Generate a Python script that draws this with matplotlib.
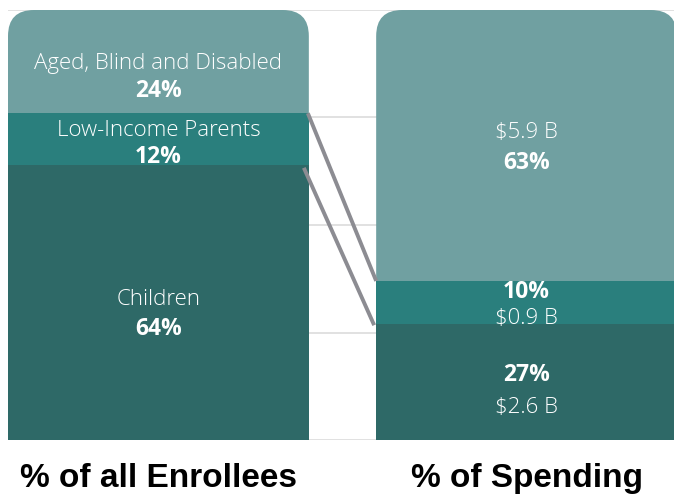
import matplotlib.pyplot as plt
from matplotlib.patches import FancyBboxPatch

# data
bars = ["% of all Enrollees", "% of Spending"]
enroll_names = ["Children", "Low-Income Parents", "Aged, Blind and Disabled"]
enroll_pct = [64, 12, 24]
spend_pct = [27, 10, 63]
spend_dollars = ["$2.6 B", "$0.9 B", "$5.9 B"]

colors = ["#2e6967", "#2a7f7d", "#70a0a1"]
line_color = "#8c8c92"

fig = plt.figure(figsize=(6.74, 4.94), dpi=100)
W, H = 674, 494
width = 0.8171
span = 1 + width
ax = fig.add_axes([8 / W, 54 / H, 669 / W, 430 / H])
ax.set_xlim(-width / 2, 1 + width / 2)
ax.set_ylim(0, 100)
ax.axis("off")

# gridlines
for g in [0, 25, 50, 75, 100]:
    ax.axhline(g, color="#dcdcdc", lw=1.2, zorder=0)

xs = [0, 1]
tops = []
for xi, vals in zip(xs, [enroll_pct, spend_pct]):
    bottom = 0
    for v, c in zip(vals, colors):
        r = ax.bar(xi, v, width, bottom=bottom, color=c, zorder=2, linewidth=0)[0]
        bottom += v
    tops.append(r)

# round top corners of the top segments
px_per_x = 669 / span
px_per_y = 430 / 100
rad = 26 / px_per_x
for xi, r in zip(xs, tops):
    clip = FancyBboxPatch((xi - width / 2, -50), width, 150,
                          boxstyle="round,pad=0,rounding_size=%f" % rad,
                          mutation_aspect=px_per_x / px_per_y,
                          transform=ax.transData, facecolor="none", edgecolor="none")
    ax.add_patch(clip)
    r.set_clip_path(clip)

# connector lines
x_r = width / 2
x_l = 1 - width / 2
c1 = enroll_pct[0] + enroll_pct[1]
c2 = spend_pct[0] + spend_pct[1]
ax.plot([x_r - 1 / px_per_x, x_l], [c1, c2], color=line_color, lw=2.8,
        solid_capstyle="butt", zorder=4)
ax.plot([x_r - 5 / px_per_x, x_l - 2 / px_per_x], [enroll_pct[0] - 0.7, spend_pct[0] - 0.3],
        color=line_color, lw=2.8, solid_capstyle="butt", zorder=4)

reg = dict(color="white", fontsize=16, family="Open Sans", fontweight="light",
           ha="center", va="center", zorder=5)
bold = dict(reg, fontweight="bold", fontsize=16.5)

# label offsets (pixels relative to segment centre, downward): name, percent
enroll_off = [(-3, 27), (-8, 18), (1.5, 29)]
spend_off = [(26, -7), (16, -10), (-13, 18)]  # dollars, percent

bottom = 0
for name, v, (o1, o2) in zip(enroll_names, enroll_pct, enroll_off):
    mid = bottom + v / 2
    ax.text(0, mid - o1 / px_per_y, name, **reg)
    ax.text(0, mid - o2 / px_per_y, "%d%%" % v, **bold)
    bottom += v

bottom = 0
for d, v, (o1, o2) in zip(spend_dollars, spend_pct, spend_off):
    mid = bottom + v / 2
    ax.text(1, mid - o1 / px_per_y, d, **reg)
    ax.text(1, mid - o2 / px_per_y, "%d%%" % v, **bold)
    bottom += v

for xi, lab in zip(xs, bars):
    ax.text(xi, -38 / px_per_y, lab, ha="center", va="center",
            fontsize=24, fontweight="bold", family="Liberation Sans",
            color="black", clip_on=False)

fig.savefig("out.png", dpi=100)
